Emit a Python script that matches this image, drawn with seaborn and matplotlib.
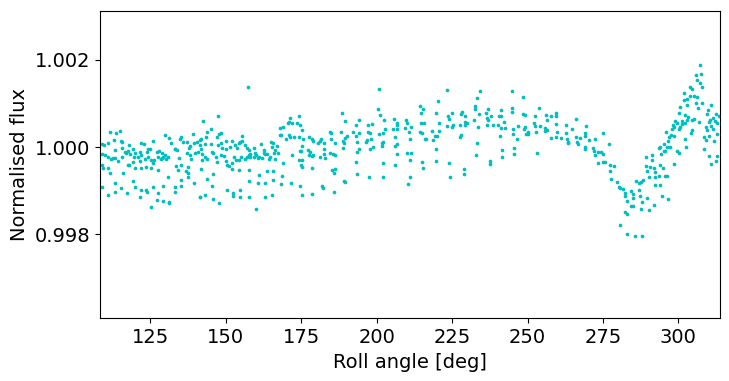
import numpy as np
import pandas as pd
import seaborn as sns
import matplotlib
matplotlib.use("Agg")
import matplotlib.pyplot as plt
from matplotlib.ticker import FormatStrFormatter

# Roll angle [deg] and flux offset [ppm], grouped by roll-angle range
seg_108_142 = [
    [109.0, 62], [109.6, 46], [111.0, 84], [113.0, 161], [113.2, -68], [111.6, 352],
    [113.6, 329], [114.9, 367], [115.2, 138], [115.6, 123], [115.6, -15], [116.5, -107],
    [117.6, -84], [118.0, 46], [119.2, -53], [119.8, -130], [121.6, -107], [122.0, 84],
    [122.9, 62], [123.8, -107], [124.2, -53], [124.9, -46], [126.0, 130], [127.1, -107],
    [128.0, -84], [128.9, -145], [129.8, -183], [130.0, 276], [131.3, 199], [131.8, 100],
    [133.1, -53], [133.7, -68], [134.8, 176], [135.3, 237], [135.9, 123], [137.1, 115],
    [137.7, -30], [138.2, 23], [139.0, 291], [139.5, 84], [140.6, 123], [141.3, 161],
    [108.8, -160], [109.9, -183], [111.0, -237], [111.9, -275], [112.5, -260], [113.2, -252],
    [114.3, -321], [115.6, -221], [116.9, -145], [118.3, -160], [119.6, -221], [120.9, -221],
    [122.0, -183], [123.1, -275], [124.2, -237], [125.1, -298], [126.2, -298], [127.5, -221],
    [128.4, -283], [129.3, -237], [130.2, -283], [130.9, -237], [133.3, -38], [134.6, -260],
    [137.1, -130], [138.2, -183], [139.7, -145], [140.8, -107], [142.1, -298],
    [108.8, -413], [109.2, -489], [111.0, -489], [111.6, -588], [115.8, -588], [117.6, -413],
    [118.0, -405], [119.2, -336], [120.0, -489], [121.4, -321], [122.0, -489], [123.6, -466],
    [125.1, -489], [125.8, -359], [127.5, -527], [128.7, -260], [130.9, -680], [133.5, -435],
    [134.0, -527], [135.1, -413], [136.8, -543], [137.5, -466], [137.3, -695], [138.6, -275],
    [109.0, -925], [111.0, -1108], [113.2, -1039], [113.4, -833], [115.4, -948], [117.4, -1062],
    [119.4, -780], [119.8, -909], [121.4, -1154], [121.8, -986], [123.6, -986], [123.8, -1024],
    [125.3, -1383], [125.8, -925], [127.3, -1215], [127.5, -1062], [129.1, -1238], [129.3, -894],
    [131.1, -1253], [131.1, -1292], [133.3, -909], [133.3, -1024], [135.1, -894], [135.3, -756],
    [137.5, -588], [139.3, -833], [141.3, -1154],
]

seg_142_176 = [
    [157.2, 1369], [147.5, 711], [142.6, 604], [145.0, 406], [143.7, 337], [147.9, 291],
    [148.3, 314], [141.9, 176], [143.5, 222], [141.5, 46], [143.2, 69], [145.2, 62],
    [147.0, 222], [147.4, 46], [148.3, 100], [148.8, -30], [149.9, 146], [150.1, -53],
    [151.4, 8], [152.1, 146], [153.0, 39], [153.6, -30], [154.3, 84], [154.7, 123],
    [155.2, 138], [155.4, 253], [156.3, 46], [157.0, -30], [157.6, -68], [158.0, -160],
    [159.2, -30], [159.6, -130], [160.0, -183], [160.9, -221], [161.8, 69], [162.7, -68],
    [163.1, -160], [163.6, -160], [164.9, 123], [165.3, 8], [165.8, 84], [166.4, -68],
    [167.1, 23], [167.8, 444], [168.0, 276], [168.4, 276], [169.1, 467], [169.8, 176],
    [170.6, 543], [171.1, 276], [170.9, 581], [171.3, 673], [172.0, 558], [172.6, 222],
    [173.7, 543], [174.2, 711], [174.6, 505], [175.3, 390], [175.7, 176], [174.2, 222],
    [174.6, -84], [175.1, 23], [172.0, -191], [171.3, 237],
    [141.7, -53], [142.1, -160], [143.0, -237], [143.9, -283], [145.4, -107], [145.9, -145],
    [146.6, -237], [147.2, -336], [148.5, -183], [149.4, -206], [150.1, -313], [150.5, -413],
    [151.0, -435], [152.1, -374], [152.7, -237], [153.4, -298], [154.3, -298], [155.0, -221],
    [156.5, -283], [157.0, -221], [157.8, -183], [158.0, -237], [159.4, -221], [160.5, -260],
    [162.0, -260], [162.5, -145], [164.2, -283], [164.7, -221], [166.0, -145], [166.4, -267],
    [167.3, -145], [168.9, -374], [141.7, -512], [145.9, -619], [143.7, -741], [151.9, -512],
    [154.3, -527], [157.8, -527], [160.9, -642], [163.6, -543], [165.8, -543], [168.7, -665],
    [174.4, -298], [174.8, -413], [175.3, -466],
    [145.4, -894], [157.6, -787], [160.5, -818], [162.9, -818], [165.8, -756], [168.4, -848],
    [171.7, -833], [174.6, -894], [150.3, -986], [152.5, -1047], [154.7, -986], [143.2, -1100],
    [141.5, -1139], [152.5, -1123], [154.7, -1154], [157.6, -1154], [162.9, -1154], [165.3, -1093],
    [175.1, -1100], [145.7, -1192], [147.9, -1292], [160.0, -1429],
]

seg_176_209 = [
    [200.9, 1323], [188.5, 772], [189.6, 589], [200.5, 864], [201.1, 727], [202.5, 620],
    [205.6, 635], [206.9, 558], [206.9, 513], [179.0, 146], [180.6, 84], [181.2, 146],
    [177.7, 222], [178.6, 176], [181.7, 176], [182.4, 100], [184.6, 352], [185.0, 329],
    [186.1, 84], [185.0, 176], [188.3, 352], [188.8, 138], [189.2, 100], [190.1, 253],
    [189.6, 199], [192.3, 352], [193.0, 505], [193.2, 253], [194.3, 329], [193.6, 123],
    [194.3, 620], [196.3, 123], [196.7, 161], [197.2, 505], [198.3, 528], [197.2, 352],
    [197.8, 314], [198.0, 176], [198.7, 8], [197.8, -53], [200.9, 299], [202.0, 329],
    [202.9, 406], [201.6, 100], [202.2, 123], [201.6, 23], [205.3, 406], [206.2, 222],
    [206.9, 406], [206.0, 23], [206.7, 69],
    [174.8, -84], [175.3, -298], [177.3, -68], [177.9, -107], [178.6, -206], [177.7, -183],
    [179.0, -183], [181.2, -221], [182.4, -53], [182.8, -260], [182.4, -160], [184.6, -130],
    [185.4, -160], [186.3, -183], [189.0, -30], [193.4, -107], [194.1, -53], [206.7, -160],
    [202.0, -359], [178.4, -489], [185.2, -527], [185.7, -588], [186.3, -512], [193.6, -619],
    [197.6, -695], [202.0, -695], [206.2, -413], [193.2, -344],
    [189.2, -780], [189.6, -795], [181.9, -894], [182.1, -932], [185.7, -1039], [178.4, -1085],
]

seg_209_243 = [
    [223.4, 1308], [234.1, 1285], [233.4, 1117], [214.2, 941], [215.5, 864], [220.4, 1048],
    [219.5, 772], [214.6, 772], [209.7, 620], [210.2, 543], [211.5, 452], [209.5, 428],
    [210.6, 352], [214.6, 558], [215.7, 558], [214.4, 352], [215.1, 314], [215.9, 176],
    [216.4, 176], [211.1, 176], [218.4, 375], [219.2, 253], [218.8, 161], [220.1, 253],
    [220.8, 375], [220.6, 558], [223.2, 482], [223.9, 635], [223.7, 711], [224.8, 772],
    [224.8, 467], [225.2, 497], [227.6, 505], [227.9, 750], [228.3, 811], [229.2, 711],
    [229.4, 505], [229.4, 581], [227.9, 276], [227.6, 237], [229.9, 543], [232.1, 620],
    [232.5, 941], [232.7, 864], [233.8, 750], [233.6, 452], [236.3, 772], [236.9, 864],
    [236.5, 658], [236.9, 620], [237.8, 711], [236.7, 505], [238.5, 505], [240.2, 505],
    [240.7, 711], [241.3, 849], [241.3, 711], [242.2, 581], [242.5, 428], [240.9, 253],
    [210.2, -145], [211.5, -145], [211.1, -298], [219.7, -53], [215.1, -344], [219.7, -321],
    [215.3, -489], [224.1, -374], [233.4, 84], [233.0, -191], [237.4, -321], [237.6, -390],
    [241.6, -68], [241.6, -221],
    [210.9, -695], [210.4, -856], [224.3, -680], [228.8, -512], [228.8, -627],
]

seg_243_275 = [
    [244.7, 1285], [248.6, 1139], [244.9, 887], [244.7, 795], [248.4, 750], [249.1, 727],
    [253.9, 887], [252.6, 711], [241.1, 428], [245.3, 406], [245.1, 291], [246.7, 482],
    [246.4, 176], [249.1, 467], [248.9, 406], [249.5, 299], [250.2, 352], [250.2, 299],
    [252.2, 558], [252.4, 482], [252.8, 352], [254.2, 482], [256.2, 734], [257.7, 711],
    [256.4, 620], [255.9, 428], [255.9, 367], [256.6, 390], [259.3, 711], [259.5, 772],
    [259.3, 528], [257.9, 199], [259.3, 237], [259.9, 337], [261.2, 199], [262.6, 314],
    [262.8, 505], [264.6, 406], [263.0, 176], [263.5, 123], [263.5, 84], [265.9, 635],
    [266.1, 222], [266.3, 123], [266.8, 69], [267.4, 199], [269.4, 482], [269.0, 329],
    [269.0, 253], [270.5, 161], [269.2, -7], [269.2, -53], [271.6, -30], [271.9, -84],
    [272.5, 176], [272.3, -191], [273.2, -107], [273.4, -374],
    [245.5, -30], [245.5, -160], [253.3, -145],
]

seg_275_314 = [
    [307.0, 1881], [305.9, 1652], [307.6, 1667], [306.3, 1537], [307.2, 1461], [307.9, 1384],
    [303.9, 1369], [304.5, 1323], [301.7, 1231], [303.7, 1170], [305.2, 1170], [306.1, 1155],
    [301.9, 1078], [303.0, 1094], [302.8, 964], [305.7, 1002], [307.9, 1017], [300.6, 910],
    [306.5, 887], [309.9, 849], [310.9, 956], [300.1, 772], [302.1, 734], [303.2, 696],
    [303.0, 620], [304.5, 620], [305.2, 635], [309.4, 757], [310.5, 620], [312.5, 757],
    [313.4, 711], [311.4, 658], [298.8, 604], [299.7, 558], [301.2, 604], [300.6, 467],
    [298.1, 505], [298.6, 451], [297.9, 406], [300.1, 421], [302.1, 558], [301.2, 528],
    [304.5, 390], [304.1, 314], [306.8, 581], [310.1, 581], [309.0, 467], [310.7, 482],
    [312.1, 604], [312.9, 558], [309.6, 390], [311.4, 406], [295.9, 352], [297.7, 276],
    [297.0, 222], [298.4, 253], [296.6, 146], [295.3, 69], [296.1, 8], [297.3, 8],
    [295.3, -84], [293.5, -30], [294.2, -160], [295.7, -84], [293.9, 8], [302.3, 176],
    [302.6, 8], [308.5, 222], [309.2, 161], [310.1, 253], [311.8, 146], [312.9, 299],
    [274.9, 329], [277.1, 61], [274.5, -107], [274.9, -160], [275.8, -336], [274.9, -336],
    [277.4, -413], [278.7, -435], [299.7, -84], [300.3, -145], [308.5, -53], [310.3, -206],
    [310.7, -397], [312.3, -313], [312.7, -206], [291.3, -183], [289.3, -221], [291.3, -298],
    [289.1, -435], [290.6, -451], [291.9, -489], [293.9, -413], [294.8, -489], [292.4, -565],
    [289.7, -542], [293.5, -665], [295.7, -665], [296.1, -665], [292.2, -680], [290.4, -695],
    [298.4, -390], [277.4, -542], [277.8, -741], [279.8, -795], [280.2, -909], [280.7, -948],
    [281.6, -970], [282.2, -1062], [282.4, -1124], [282.9, -1231], [284.2, -1001], [284.9, -1078],
    [284.9, -1177], [286.0, -772], [286.9, -818], [287.5, -795], [288.4, -756], [286.9, -986],
    [287.3, -1124], [288.0, -1253], [289.7, -1177], [292.2, -871], [293.9, -871], [294.4, -1124],
    [296.4, -1200], [284.4, -1353], [285.1, -1353], [287.5, -1429], [290.2, -1445], [291.9, -1330],
    [282.4, -1483], [282.9, -1536], [280.5, -1789], [283.1, -2003], [285.5, -2041], [287.8, -2041],
]

x_ticks = [125, 150, 175, 200, 225, 250, 275, 300]
y_ticks = [0.998, 1.000, 1.002]


def build_frame():
    segs = [seg_108_142, seg_142_176, seg_176_209, seg_209_243, seg_243_275, seg_275_314]
    arr = np.vstack([np.array(s, dtype=float) for s in segs])
    df = pd.DataFrame({"roll": arr[:, 0], "flux": 1.0 + arr[:, 1] * 1e-6})
    return df


def plot_flux(df):
    fig = plt.figure(figsize=(7.29, 3.81), dpi=100)
    ax = fig.add_axes([0.1376, 0.1646, 0.8501, 0.8073])
    sns.scatterplot(x="roll", y="flux", data=df, ax=ax, color="c", s=7,
                    linewidth=0, legend=False)
    ax.set_xlim(108.4, 313.8)
    ax.set_ylim(0.99607, 1.00313)
    ax.set_xticks(x_ticks)
    ax.set_yticks(y_ticks)
    ax.yaxis.set_major_formatter(FormatStrFormatter("%.3f"))
    ax.tick_params(labelsize=14)
    ax.set_xlabel("Roll angle [deg]", fontsize=14)
    ax.set_ylabel("Normalised flux", fontsize=14)
    fig.savefig("out.png", dpi=100)


def main():
    df = build_frame()
    plot_flux(df)


if __name__ == "__main__":
    main()
